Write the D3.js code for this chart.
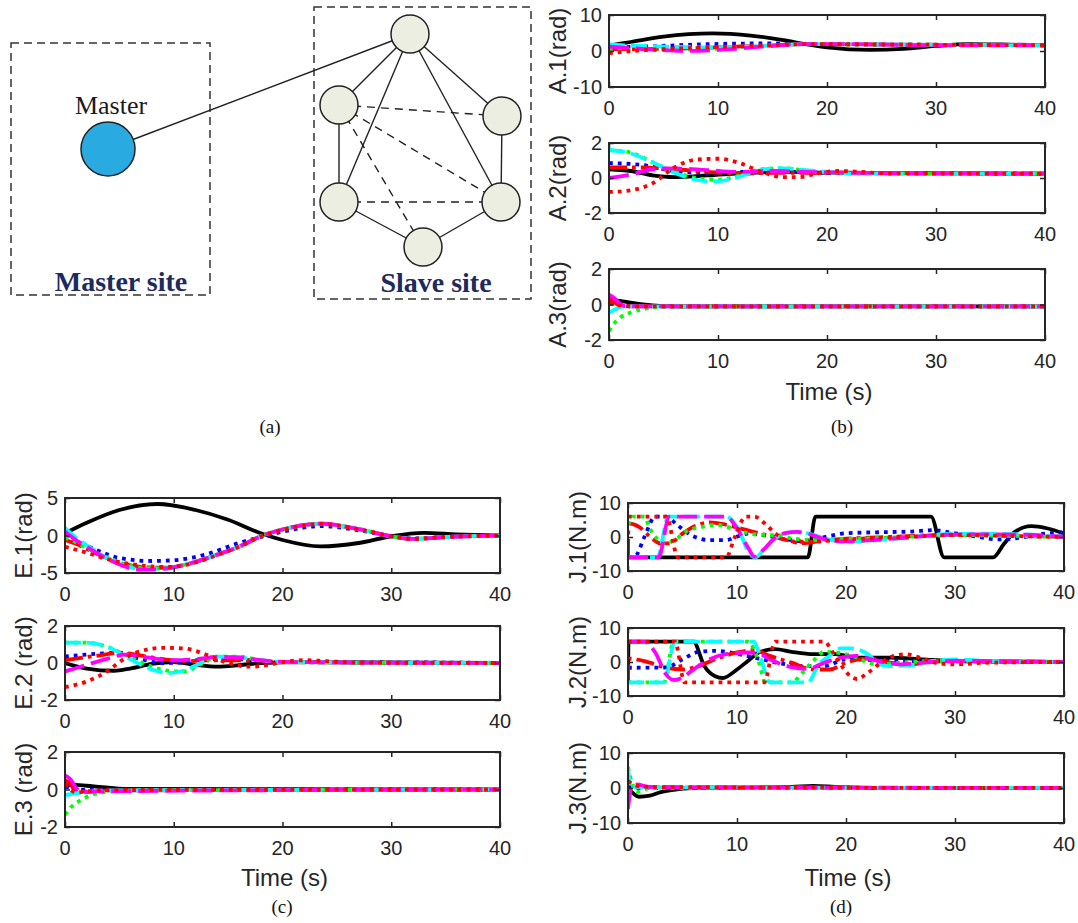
<!DOCTYPE html>
<html>
<head>
<meta charset="utf-8">
<script src="https://cdn.jsdelivr.net/npm/d3@7/dist/d3.min.js"></script>
<style>
  body { margin: 0; background: #fff; }
  text { fill: #262626; }
</style>
</head>
<body>
<svg id="fig" width="1078" height="923"></svg>
<script>
// ---------- values ----------
// every subplot: 7 series, each a list of [time, value]
// order: black solid, blue dotted, red dash-dot, green dotted, cyan dashed, magenta dashed, red dotted
const timeTicks = [0, 10, 20, 30, 40];
const ticksA1 = [-10, 0, 10];
const ticksA2 = [-2, 0, 2];
const ticksA3 = [-2, 0, 2];
const ticksE1 = [-5, 0, 5];
const ticksE2 = [-2, 0, 2];
const ticksE3 = [-2, 0, 2];
const ticksJ = [-10, 0, 10];

const A1 = [
  [[0,1.5],[2,2.5],[5,4.0],[9.5,4.9],[13,4.3],[16,3.0],[18,1.9],[20,1.0],[24,0.3],[27,0.6],[30,1.4],[33,1.9],[36,1.8],[40,1.6]],
  [[0,1.0],[3,1.2],[8,1.8],[14,2.1],[18,2.0],[25,1.8],[40,1.6]],
  [[0,0.5],[5,0.6],[10,1.0],[14,1.5],[18,1.9],[25,1.8],[40,1.6]],
  [[0,0.5],[4,0.3],[8,0.4],[13,1.2],[18,1.9],[25,1.8],[40,1.6]],
  [[0,1.8],[2,1.5],[5,1.2],[9,1.0],[14,1.4],[18,1.9],[25,1.8],[40,1.6]],
  [[0,1.2],[3,0.6],[7,0.0],[10,0.3],[14,1.2],[18,1.9],[22,1.9],[30,1.6],[40,1.6]],
  [[0,-0.6],[3,0.2],[8,0.9],[14,1.5],[18,1.9],[25,1.8],[40,1.6]]
];
const A2 = [
  [[0,0.5],[2,0.4],[4,0.15],[6,0.05],[9,0.15],[13,0.3],[17,0.35],[20,0.3],[40,0.25]],
  [[0,0.85],[3,0.75],[6,0.4],[9,0.3],[12,0.35],[16,0.35],[20,0.3],[40,0.25]],
  [[0,0.6],[3,0.6],[6,0.5],[9,0.35],[12,0.25],[15,0.3],[20,0.3],[40,0.25]],
  [[0,1.6],[2,1.45],[4,0.9],[6,0.35],[8,0.0],[10,-0.1],[12,0.15],[14,0.5],[16,0.55],[19,0.35],[22,0.25],[40,0.25]],
  [[0,1.6],[2,1.4],[4,0.9],[6,0.3],[8,-0.1],[9.5,-0.2],[11,-0.1],[13,0.3],[15,0.55],[16,0.55],[18,0.45],[20,0.35],[23,0.25],[40,0.25]],
  [[0,0.0],[2,0.2],[4,0.5],[6,0.55],[9,0.45],[12,0.35],[15,0.4],[18,0.35],[22,0.3],[40,0.25]],
  [[0,-0.8],[2,-0.7],[4,-0.3],[6,0.6],[8,1.05],[10,1.1],[12,0.85],[14,0.35],[16,0.05],[17.5,0.05],[19,0.25],[21,0.4],[23,0.35],[26,0.25],[40,0.25]]
];
const A3 = [
  [[0,0.25],[1,0.2],[2,0.1],[4,-0.05],[6,-0.1],[40,-0.1]],
  [[0,0.1],[1,0.0],[2,-0.1],[40,-0.1]],
  [[0,0.35],[0.5,0.1],[1,-0.05],[2,-0.1],[40,-0.1]],
  [[0,-1.5],[0.5,-1.05],[1,-0.75],[2,-0.45],[3,-0.28],[4,-0.18],[6,-0.12],[40,-0.1]],
  [[0,-0.45],[0.5,-0.3],[1,-0.15],[2,-0.1],[40,-0.1]],
  [[0,0.55],[0.5,0.35],[1,0.05],[1.5,-0.1],[40,-0.1]],
  [[0,0.05],[1,-0.05],[2,-0.1],[40,-0.1]]
];
const E1 = [
  [[0,0.3],[2,1.7],[5,3.4],[8.5,4.2],[12,3.4],[15,2.1],[18,0.3],[20,-0.6],[23.5,-1.45],[27,-1.0],[30,-0.1],[33,0.35],[36,0.15],[40,0.0]],
  [[0,0.0],[1,-0.7],[3,-2.0],[5,-3.0],[8,-3.4],[10,-3.3],[13,-2.5],[16,-1.0],[18,-0.2],[20,0.5],[23.5,1.25],[27,0.7],[30,-0.1],[32,-0.4],[35,-0.2],[40,0.0]],
  [[0,-0.6],[1,-1.1],[2,-1.8],[4,-3.1],[7,-4.2],[9,-4.3],[11,-3.9],[14,-2.55],[16,-1.5],[18,-0.1],[20,0.8],[23.5,1.55],[27,0.85],[30,-0.1],[32,-0.45],[35,-0.2],[40,0.0]],
  [[0,-0.3],[1,-0.9],[2,-1.7],[4,-3.0],[7,-4.3],[9,-4.4],[11,-3.9],[14,-2.55],[16,-1.5],[18,-0.1],[20,0.8],[23.5,1.55],[27,0.85],[30,-0.1],[32,-0.45],[35,-0.2],[40,0.0]],
  [[0,1.0],[1,-0.3],[2,-1.3],[4,-3.1],[7,-4.45],[9,-4.4],[11,-3.9],[14,-2.55],[16,-1.5],[18,-0.1],[20,0.8],[23.5,1.55],[27,0.85],[30,-0.1],[32,-0.45],[35,-0.2],[40,0.0]],
  [[0,0.5],[1,-0.6],[2,-1.5],[4,-3.2],[7,-4.55],[9,-4.45],[11,-3.9],[14,-2.55],[16,-1.5],[18,-0.1],[20,0.8],[23.5,1.6],[27,0.85],[30,-0.1],[32,-0.45],[35,-0.2],[40,0.0]],
  [[0,-1.5],[2,-2.3],[4,-3.2],[7,-4.0],[9.5,-4.2],[12,-3.6],[14,-2.6],[16,-1.5],[18,-0.15],[20,0.75],[23.5,1.55],[27,0.85],[30,-0.1],[32,-0.45],[35,-0.2],[40,0.0]]
];
const E2 = [
  [[0,0.0],[2,-0.3],[4.5,-0.42],[6,-0.3],[8,-0.05],[10,0.05],[12,-0.1],[14,-0.2],[16,-0.12],[18,0.0],[22,0.05],[40,0.0]],
  [[0,0.35],[3,0.5],[5,0.55],[7,0.2],[9,0.0],[11,0.05],[13,0.2],[16,0.2],[19,0.05],[24,0.05],[40,0.0]],
  [[0,0.15],[3,0.4],[5,0.55],[8,0.3],[11,0.1],[14,0.15],[17,0.15],[20,0.05],[40,0.0]],
  [[0,1.1],[2,1.1],[4,0.85],[6,0.3],[8,-0.2],[10,-0.45],[11,-0.45],[12.5,-0.05],[14,0.35],[16,0.35],[18,0.15],[20,0.05],[40,0.0]],
  [[0,1.1],[2,1.1],[4,0.85],[6,0.2],[8,-0.35],[9.5,-0.55],[11,-0.4],[12.5,0.0],[14,0.35],[16,0.3],[17.5,0.2],[20,0.05],[40,0.0]],
  [[0,-0.45],[2,-0.1],[4,0.25],[5.5,0.45],[7,0.35],[10,0.15],[12,0.2],[14,0.33],[16,0.3],[18,0.15],[21,0.05],[40,0.0]],
  [[0,-1.3],[2,-1.0],[4,-0.4],[5,0.05],[6.5,0.55],[9,0.82],[11,0.78],[13,0.45],[15,0.0],[17,-0.2],[18.5,-0.12],[20,0.05],[22,0.15],[24,0.1],[27,0.02],[40,0.0]]
];
const E3 = [
  [[0,0.2],[1,0.25],[2,0.2],[4,0.1],[6,0.03],[40,0.0]],
  [[0,0.1],[0.5,0.15],[1,-0.05],[2,0.0],[40,0.0]],
  [[0,0.5],[0.5,0.3],[1,-0.1],[2,-0.1],[4,-0.05],[40,0.0]],
  [[0,-1.35],[0.6,-0.92],[1.3,-0.62],[2.3,-0.33],[3,-0.2],[4,-0.12],[6,-0.05],[40,0.0]],
  [[0,-0.3],[1,-0.2],[2,-0.12],[4,-0.05],[40,0.0]],
  [[0,0.75],[0.5,0.55],[1,0.1],[1.5,-0.15],[3,-0.1],[40,0.0]],
  [[0,0.3],[1,-0.15],[2,-0.1],[4,-0.03],[40,0.0]]
];
const J1 = [
  [[0,-6],[16.5,-6],[17.2,6],[27.8,6],[29,-6],[33.5,-6],[34.5,-2],[35.5,1.5],[37,3.2],[38.5,2.5],[40,1.0]],
  [[0,-6],[0.7,-5.5],[1.5,0],[2.5,6],[3.5,6],[4.5,3.6],[5.5,1.1],[6.5,-0.4],[7.5,-0.9],[9,-0.9],[10,0.1],[11,1.0],[12.5,0.5],[14,-0.4],[16,-1.2],[18,0.0],[20,1.1],[23,1.4],[26,1.6],[28,2.0],[30,1.1],[32,0.1],[34,-0.7],[36,-0.2],[38,0.9],[40,1.4]],
  [[0,-6],[0.05,4],[1,3],[2,0.2],[3,-1.9],[3.8,-1.9],[5,1.0],[6,3.0],[7.5,4.3],[9,3.6],[10,2.8],[12,1.1],[14,-0.4],[16,-1.8],[18,-1.0],[20,-0.5],[23,-0.1],[28,0.5],[32,0.6],[36,0.3],[40,0.1]],
  [[0,3.5],[0.5,6],[1.5,6],[2,2.5],[2.5,0.1],[3,-1.4],[3.5,-1.9],[4.5,-0.4],[5.5,1.9],[7,3.1],[8,3.6],[9.5,2.6],[11,1.1],[12.5,0.6],[14,0.5],[15,-0.4],[17,-0.9],[19,-0.6],[22,-0.4],[26,0.1],[30,0.6],[35,0.3],[40,0.0]],
  [[0,-6],[2.7,-6],[3.7,6],[9,6],[10,3],[11.2,-5],[11.7,-6],[12.5,-3.5],[13.5,-0.4],[14.5,1.1],[15.5,1.6],[16.5,1.1],[18,-0.4],[20,-1.4],[22,-1.1],[25,-0.4],[28,0.6],[32,1.0],[36,0.8],[40,0.1]],
  [[0,-6],[2.8,-6],[3.8,6],[9,6],[10,2.5],[11,-3],[11.6,-5.8],[12.5,-3.5],[13.5,-0.2],[14.5,1.2],[15.5,1.5],[16.5,1.0],[18,-0.6],[20,-1.3],[22,-1.0],[25,-0.3],[28,0.5],[32,0.8],[36,0.7],[40,0.0]],
  [[0,6],[3.5,6],[4.6,-6],[9,-6],[9.8,0],[10.8,6],[11.6,6],[12.5,4.1],[13.5,1.1],[14.5,-0.9],[15.5,-1.4],[17,-1.4],[19,-0.9],[22,-0.4],[26,0.1],[30,0.6],[35,0.3],[40,0.0]]
];
const J2 = [
  [[0,-6],[0.05,6],[6,6],[7,-1.2],[8,-4.2],[8.7,-4.7],[10,-2.2],[11,0.3],[12,2.8],[13.5,3.8],[15,3.0],[17,2.3],[19,2.3],[21,1.3],[24,1.3],[27,0.8],[30,0.3],[40,0.0]],
  [[0,-1.7],[3.5,-1.6],[5,0.8],[6.5,3.0],[8,3.3],[10,2.4],[12,1.0],[14,-0.4],[16,-1.2],[18,-1.2],[20,0.8],[22,0.6],[25,0.3],[30,0.2],[40,0.0]],
  [[0,-6],[0.05,1],[1,0.6],[2,-0.2],[3.5,-1.7],[5,-2.2],[6.5,-1.2],[8,0.8],[10,2.8],[11.5,3.5],[13,1.8],[15,-0.2],[17,-2.2],[18.5,-2.2],[20,-0.2],[22,1.0],[24,-0.2],[26,-0.7],[28,0.3],[32,0.2],[40,0.0]],
  [[0,-6],[3.3,-6],[4.2,6],[11,6],[12,0],[12.6,-6],[15,-6],[16,-3.2],[17,0.3],[18,3.0],[19,2.8],[21,1.3],[22,-0.2],[23,-0.7],[25,-0.2],[28,0.3],[40,0.0]],
  [[0,-6],[3.3,-6],[4.3,6],[11.5,6],[12.2,1],[13,-6],[16.5,-6],[17.5,-0.7],[18.5,1.8],[19.5,4.0],[20.5,4.0],[22,2.3],[23,-0.5],[24,-1.2],[26,-1.0],[28,0.3],[30,0.8],[33,0.3],[40,0.0]],
  [[0,6],[1.5,6],[2.5,2.8],[3.5,-3.7],[4.2,-5.3],[5,-4.6],[6,-2.2],[7.5,0.8],[9,2.3],[11,2.8],[12,2.5],[13,0.8],[15,-1.5],[16.5,-2.0],[18,-0.2],[19.5,1.3],[21,1.8],[22.5,0.6],[25,-0.7],[27,-0.2],[30,0.3],[40,0.0]],
  [[0,6],[4.3,6],[5.2,-6],[12.5,-6],[13.5,6],[18,6],[18.8,2.8],[19.5,-0.7],[20.5,-4.4],[21,-5.0],[22,-3.2],[23,-0.7],[24,1.3],[25.5,2.3],[27,1.0],[28.5,-0.4],[30,-0.7],[33,-0.2],[40,0.0]]
];
const J3 = [
  [[0,0],[0.3,-1],[1,-2.5],[2,-2.2],[3,-1.2],[4,-0.6],[6,0],[10,0.1],[15,0.3],[17,0.6],[19,0.3],[22,0],[40,0]],
  [[0,0],[0.5,0.3],[1,0],[40,0]],
  [[0,-6],[0.05,1.5],[0.5,0.5],[1,0.3],[3,0.2],[40,0]],
  [[0,6],[0.3,2],[0.8,-1.1],[1.2,-0.8],[2,0],[40,0]],
  [[0,5.5],[0.3,0],[0.6,0.3],[2,0.2],[40,0]],
  [[0,-6],[0.3,0],[0.8,1],[2,0.3],[40,0]],
  [[0,2],[0.5,1],[1,0.5],[3,0.2],[40,0]]
];

// ---------- styles ----------
const lineStyles = [
  { color: "#000000", dash: null },
  { color: "#0000ff", dash: "3.8,5" },
  { color: "#ff0000", dash: "18,5,3.8,5" },
  { color: "#00ff00", dash: "3.8,5" },
  { color: "#00ffff", dash: "16,6" },
  { color: "#ff00ff", dash: "20,7" },
  { color: "#ff0000", dash: "3.8,5" }
];

const svg = d3.select("#fig");
const sans = "'Liberation Sans', Arial, sans-serif";
const serif = "'Liberation Serif', 'Times New Roman', serif";

// ---------- (a) network diagram ----------
const diag = svg.append("g");
diag.append("rect").attr("x", 11).attr("y", 43).attr("width", 199).attr("height", 252)
  .attr("fill", "none").attr("stroke", "#333").attr("stroke-width", 1.5).attr("stroke-dasharray", "8,5");
diag.append("rect").attr("x", 314).attr("y", 7).attr("width", 217).attr("height", 292)
  .attr("fill", "none").attr("stroke", "#333").attr("stroke-width", 1.5).attr("stroke-dasharray", "8,5");

const master = { x: 108, y: 149, r: 27 };
const nodes = [
  { x: 410, y: 34 },   // 0 top
  { x: 339, y: 105 },  // 1 upper left
  { x: 502, y: 116 },  // 2 upper right
  { x: 339, y: 202 },  // 3 lower left
  { x: 501, y: 202 },  // 4 lower right
  { x: 423, y: 247 }   // 5 bottom
];
const solidEdges = [[0,1],[0,2],[0,3],[0,4],[1,3],[2,4],[3,5],[4,5]];
const dashedEdges = [[1,2],[1,4],[1,5],[3,4]];

diag.append("line").attr("x1", master.x).attr("y1", master.y).attr("x2", nodes[0].x).attr("y2", nodes[0].y)
  .attr("stroke", "#222").attr("stroke-width", 1.4);
solidEdges.forEach(e => {
  diag.append("line").attr("x1", nodes[e[0]].x).attr("y1", nodes[e[0]].y)
    .attr("x2", nodes[e[1]].x).attr("y2", nodes[e[1]].y)
    .attr("stroke", "#222").attr("stroke-width", 1.4);
});
dashedEdges.forEach(e => {
  diag.append("line").attr("x1", nodes[e[0]].x).attr("y1", nodes[e[0]].y)
    .attr("x2", nodes[e[1]].x).attr("y2", nodes[e[1]].y)
    .attr("stroke", "#222").attr("stroke-width", 1.4).attr("stroke-dasharray", "8,6");
});
diag.append("circle").attr("cx", master.x).attr("cy", master.y).attr("r", master.r)
  .attr("fill", "#29abe2").attr("stroke", "#222").attr("stroke-width", 1.5);
nodes.forEach(n => {
  diag.append("circle").attr("cx", n.x).attr("cy", n.y).attr("r", 19)
    .attr("fill", "#ebeee0").attr("stroke", "#222").attr("stroke-width", 1.5);
});
diag.append("text").attr("x", 111).attr("y", 114).attr("text-anchor", "middle")
  .style("font-family", serif).style("font-size", "26px").style("fill", "#1a1a1a").text("Master");
diag.append("text").attr("x", 121).attr("y", 291).attr("text-anchor", "middle")
  .style("font-family", serif).style("font-size", "28px").style("font-weight", "bold")
  .style("fill", "#1e2a5e").text("Master site");
diag.append("text").attr("x", 436).attr("y", 292).attr("text-anchor", "middle")
  .style("font-family", serif).style("font-size", "28px").style("font-weight", "bold")
  .style("fill", "#1e2a5e").text("Slave site");

// ---------- subplots ----------
const panels = [
  { data: A1, ticks: ticksA1, label: "A.1(rad)", x0: 609, x1: 1045, y0: 15, y1: 87, lx: 558 },
  { data: A2, ticks: ticksA2, label: "A.2(rad)", x0: 609, x1: 1045, y0: 143, y1: 213, lx: 558 },
  { data: A3, ticks: ticksA3, label: "A.3(rad)", x0: 609, x1: 1045, y0: 269, y1: 340, lx: 558, time: 391 },
  { data: E1, ticks: ticksE1, label: "E.1(rad)", x0: 65, x1: 500, y0: 498, y1: 573, lx: 24 },
  { data: E2, ticks: ticksE2, label: "E.2 (rad)", x0: 65, x1: 500, y0: 626, y1: 700, lx: 24 },
  { data: E3, ticks: ticksE3, label: "E.3 (rad)", x0: 65, x1: 500, y0: 752, y1: 827, lx: 24, time: 877 },
  { data: J1, ticks: ticksJ, label: "J.1(N.m)", x0: 628, x1: 1064, y0: 503, y1: 571, lx: 578 },
  { data: J2, ticks: ticksJ, label: "J.2(N.m)", x0: 628, x1: 1064, y0: 628, y1: 696, lx: 578 },
  { data: J3, ticks: ticksJ, label: "J.3(N.m)", x0: 628, x1: 1064, y0: 753, y1: 823, lx: 578, time: 877 }
];

panels.forEach(function(p, idx) {
  let xScale = d3.scaleLinear().domain([0, 40]).range([p.x0, p.x1]);
  let yScale = d3.scaleLinear().domain([p.ticks[0], p.ticks[p.ticks.length - 1]]).range([p.y1, p.y0]);
  let g = svg.append("g");

  let clipId = "clip" + idx;
  svg.append("clipPath").attr("id", clipId).append("rect")
    .attr("x", p.x0).attr("y", p.y0).attr("width", p.x1 - p.x0).attr("height", p.y1 - p.y0);

  let line = d3.line().x(d => xScale(d[0])).y(d => yScale(d[1])).curve(d3.curveMonotoneX);
  let lines = g.append("g").attr("clip-path", "url(#" + clipId + ")");
  p.data.forEach(function(series, i) {
    lines.append("path").datum(series).attr("d", line)
      .attr("fill", "none").attr("stroke", lineStyles[i].color).attr("stroke-width", 3.8)
      .attr("stroke-dasharray", lineStyles[i].dash);
  });

  // inward ticks on all four sides
  let xIn = d3.axisBottom(xScale).tickValues(timeTicks).tickSize(-5).tickFormat("");
  let xTop = d3.axisTop(xScale).tickValues(timeTicks).tickSize(-5).tickFormat("");
  let yIn = d3.axisLeft(yScale).tickValues(p.ticks).tickSize(-5).tickFormat("");
  let yRight = d3.axisRight(yScale).tickValues(p.ticks).tickSize(-5).tickFormat("");
  [[xIn, "translate(0," + p.y1 + ")"], [xTop, "translate(0," + p.y0 + ")"],
   [yIn, "translate(" + p.x0 + ",0)"], [yRight, "translate(" + p.x1 + ",0)"]].forEach(function(a) {
    let ax = g.append("g").attr("transform", a[1]).call(a[0]);
    ax.select(".domain").remove();
    ax.selectAll("line").attr("stroke", "#262626").attr("stroke-width", 1.5);
  });

  g.append("rect").attr("x", p.x0).attr("y", p.y0).attr("width", p.x1 - p.x0).attr("height", p.y1 - p.y0)
    .attr("fill", "none").attr("stroke", "#262626").attr("stroke-width", 2);

  // tick labels
  timeTicks.forEach(function(t) {
    g.append("text").attr("x", xScale(t)).attr("y", p.y1 + 28).attr("text-anchor", "middle")
      .style("font-family", sans).style("font-size", "20px").text(t);
  });
  p.ticks.forEach(function(v) {
    g.append("text").attr("x", p.x0 - 7).attr("y", yScale(v) + 7).attr("text-anchor", "end")
      .style("font-family", sans).style("font-size", "20px").text(v);
  });

  g.append("text").attr("transform", "translate(" + p.lx + "," + ((p.y0 + p.y1) / 2) + ")rotate(-90)")
    .attr("text-anchor", "middle").attr("dy", "0.35em")
    .style("font-family", sans).style("font-size", "24px").text(p.label);

  if (p.time) {
    g.append("text").attr("x", (p.x0 + p.x1) / 2 + 2).attr("y", p.time + 9).attr("text-anchor", "middle")
      .style("font-family", sans).style("font-size", "24px").text("Time (s)");
  }
});

// panel letters
const panelLetters = [["(a)", 270, 433], ["(b)", 842, 433], ["(c)", 282, 913], ["(d)", 841, 913]];
panelLetters.forEach(function(l) {
  svg.append("text").attr("x", l[1]).attr("y", l[2]).attr("text-anchor", "middle")
    .style("font-family", serif).style("font-size", "19px").style("fill", "#111").text(l[0]);
});
</script>
</body>
</html>
